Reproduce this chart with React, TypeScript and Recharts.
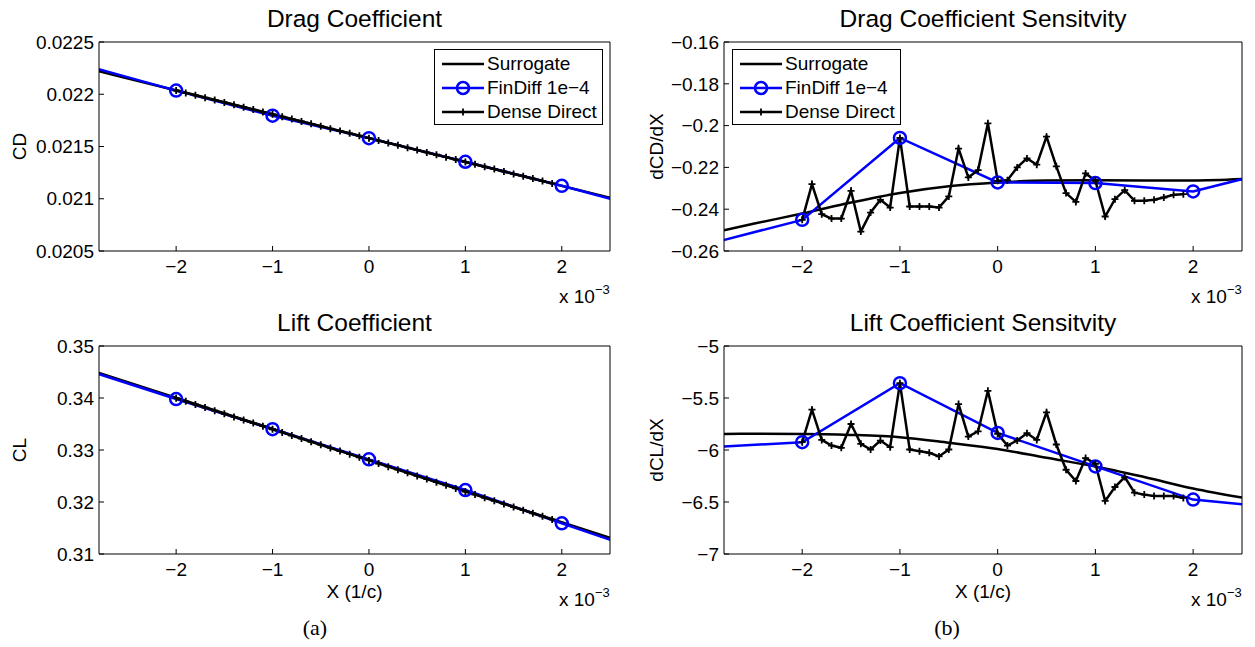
import React from 'react';
import { LineChart, Line, XAxis, YAxis, Legend } from 'recharts';

const FONT = '"Liberation Sans", Arial, Helvetica, sans-serif';
const SERIF = '"Liberation Serif", "DejaVu Serif", serif';

// x positions are in units of 1e-3 (1/c)
const xTicks = [-2, -1, 0, 1, 2];
const xDomain = [-2.8, 2.5];

const denseX = [
  -2, -1.9, -1.8, -1.7, -1.6, -1.5, -1.4, -1.3, -1.2, -1.1,
  -1, -0.9, -0.8, -0.7, -0.6, -0.5, -0.4, -0.3, -0.2, -0.1,
  0, 0.1, 0.2, 0.3, 0.4, 0.5, 0.6, 0.7, 0.8, 0.9,
  1, 1.1, 1.2, 1.3, 1.4, 1.5, 1.6, 1.7, 1.8, 1.9,
];
const finDiffX = [-3, -2, -1, 0, 1, 2, 3];
const surrogateX = [-2.8, -2.5, -2, -1.5, -1, -0.5, 0, 0.5, 1, 1.5, 2, 2.5];
const surrogateLineX = [-2.8, 0, 2.5];

// Drag coefficient
const denseCD = [
  0.022036, 0.022013, 0.02199, 0.021967, 0.021944, 0.021922, 0.021899, 0.021876, 0.021853, 0.021831,
  0.021808, 0.021785, 0.021762, 0.021739, 0.021717, 0.021694, 0.021671, 0.021648, 0.021626, 0.021603,
  0.02158, 0.021557, 0.021534, 0.021512, 0.021489, 0.021466, 0.021443, 0.021421, 0.021398, 0.021375,
  0.021352, 0.021329, 0.021307, 0.021284, 0.021261, 0.021238, 0.021216, 0.021193, 0.02117, 0.021147,
];
const finDiffCD = [0.02229, 0.022035, 0.021795, 0.02158, 0.021354, 0.021124, 0.020876];
const surrogateCD = [0.02222, 0.02158, 0.02101];

// Lift coefficient
const denseCL = [
  0.33996, 0.33936, 0.33876, 0.33817, 0.33757, 0.33697, 0.33637, 0.33577, 0.33518, 0.33458,
  0.33398, 0.33338, 0.33278, 0.33219, 0.33159, 0.33099, 0.33039, 0.32979, 0.3292, 0.3286,
  0.328, 0.3274, 0.3268, 0.32621, 0.32561, 0.32501, 0.32441, 0.32381, 0.32322, 0.32262,
  0.32202, 0.32142, 0.32082, 0.32023, 0.31963, 0.31903, 0.31843, 0.31783, 0.31724, 0.31664,
];
const finDiffCL = [0.3458, 0.3398, 0.334, 0.3282, 0.3223, 0.3159, 0.3096];
const surrogateCL = [0.3448, 0.3281, 0.3131];

// Drag coefficient sensitivity
const denseDCD = [
  -0.2451, -0.228, -0.2424, -0.2445, -0.2445, -0.2312, -0.2507, -0.2416, -0.2355, -0.2392,
  -0.2059, -0.2387, -0.2387, -0.2387, -0.2392, -0.2339, -0.211, -0.2248, -0.2213, -0.1989,
  -0.2264, -0.2261, -0.22, -0.2157, -0.2187, -0.2053, -0.2195, -0.2323, -0.2365, -0.2229,
  -0.2264, -0.2435, -0.2352, -0.2309, -0.236, -0.236, -0.2355, -0.2344, -0.2331, -0.2328,
];
const finDiffDCD = [-0.2571, -0.2451, -0.2059, -0.2272, -0.2275, -0.2315, -0.2197];
const surrogateDCD = [
  -0.2501, -0.247, -0.2421, -0.2368, -0.2322, -0.229, -0.2272, -0.2263, -0.2262, -0.2263, -0.2263, -0.2256,
];

// Lift coefficient sensitivity
const denseDCL = [
  -5.925, -5.612, -5.903, -5.957, -5.979, -5.75, -5.941, -5.995, -5.909, -5.973,
  -5.357, -5.995, -6.011, -6.027, -6.062, -5.995, -5.558, -5.871, -5.82, -5.431,
  -5.845, -5.957, -5.909, -5.839, -5.903, -5.638, -5.947, -6.19, -6.298, -6.078,
  -6.132, -6.49, -6.356, -6.26, -6.41, -6.429, -6.442, -6.442, -6.442, -6.461,
];
const finDiffDCL = [-5.976, -5.925, -5.357, -5.836, -6.158, -6.477, -6.565];
const surrogateDCL = [
  -5.845, -5.844, -5.845, -5.855, -5.877, -5.93, -5.99, -6.075, -6.158, -6.26, -6.37, -6.458,
];

const legendNames = ['Surrogate', 'FinDiff 1e\u22124', 'Dense Direct'];

type Pt = { x: number; y: number };
const zip = (xs: number[], ys: number[]): Pt[] => xs.map((x, i) => ({ x, y: ys[i] }));
const fmt = (v: number) => String(v).replace('-', '\u2212');

const PlusDot = (props: any) => {
  const { cx, cy, index } = props;
  if (cx == null || cy == null) return <g key={index} />;
  const s = 3.5;
  return (
    <path
      key={index}
      d={`M${cx - s},${cy}H${cx + s}M${cx},${cy - s}V${cy + s}`}
      stroke="#000"
      strokeWidth={1.8}
      fill="none"
    />
  );
};

const LegendBox = () => (
  <div
    style={{
      width: 167,
      height: 74,
      border: '1px solid #000',
      background: '#fff',
      fontFamily: FONT,
      fontSize: 19,
      position: 'relative',
    }}
  >
    {legendNames.map((name, i) => (
      <div
        key={name}
        style={{
          position: 'absolute',
          left: 0,
          top: 1.5 + i * 24,
          height: 24,
          display: 'flex',
          alignItems: 'center',
          whiteSpace: 'nowrap',
        }}
      >
        <svg width={52} height={24} style={{ display: 'block' }}>
          <line x1={7} y1={12} x2={49} y2={12} stroke={i === 1 ? '#0000ff' : '#000'} strokeWidth={2.5} />
          {i === 1 && <circle cx={28} cy={12} r={6} stroke="#0000ff" strokeWidth={2.5} fill="none" />}
          {i === 2 && <path d="M24.5,12H31.5M28,8.5V15.5" stroke="#000" strokeWidth={1.8} />}
        </svg>
        <span style={{ lineHeight: '24px', color: '#000' }}>{name}</span>
      </div>
    ))}
  </div>
);

interface PanelProps {
  left: number;
  top: number;
  width: number;
  height: number;
  yDomain: number[];
  yTicks: number[];
  surrogate: Pt[];
  finDiff: Pt[];
  dense: Pt[];
  legend?: 'left' | 'right';
}

const ML = 80;
const MT = 40;
const MR = 60;
const MB = 70;

function Panel({ left, top, width, height, yDomain, yTicks, surrogate, finDiff, dense, legend }: PanelProps) {
  const legendLeft = legend === 'right' ? ML + width - 7 - 169 : ML + 8;
  const tickStyle = { fill: '#000', fontSize: 19, fontFamily: FONT };
  return (
    <div style={{ position: 'absolute', left: left - ML, top: top - MT }}>
      <LineChart
        width={width + ML + MR}
        height={height + MT + MB}
        margin={{ top: MT - 1, right: MR - 1, bottom: MB - 30, left: 0 }}
      >
        <XAxis
          xAxisId="b"
          dataKey="x"
          type="number"
          orientation="bottom"
          domain={xDomain}
          allowDataOverflow
          ticks={xTicks}
          tickFormatter={fmt}
          height={30}
          tickSize={-5}
          tickMargin={14}
          stroke="#000"
          tick={tickStyle}
        />
        <XAxis
          xAxisId="t"
          dataKey="x"
          type="number"
          orientation="top"
          domain={xDomain}
          allowDataOverflow
          ticks={xTicks}
          height={1}
          tickSize={-5}
          tick={false}
          stroke="#000"
        />
        <YAxis
          yAxisId="l"
          type="number"
          domain={yDomain}
          allowDataOverflow
          ticks={yTicks}
          tickFormatter={fmt}
          width={ML}
          tickSize={-5}
          tickMargin={10}
          stroke="#000"
          tick={tickStyle}
        />
        <YAxis
          yAxisId="r"
          type="number"
          orientation="right"
          domain={yDomain}
          allowDataOverflow
          ticks={yTicks}
          width={1}
          tickSize={-5}
          tick={false}
          stroke="#000"
        />
        <Line
          xAxisId="b"
          yAxisId="l"
          data={surrogate}
          dataKey="y"
          name="Surrogate"
          type="monotone"
          stroke="#000"
          strokeWidth={2.5}
          dot={false}
          isAnimationActive={false}
        />
        <Line
          xAxisId="b"
          yAxisId="l"
          data={finDiff}
          dataKey="y"
          name="FinDiff 1e-4"
          type="linear"
          stroke="#0000ff"
          strokeWidth={2.5}
          dot={{ r: 6, stroke: '#0000ff', strokeWidth: 2.5, fill: 'none' }}
          isAnimationActive={false}
        />
        <Line
          xAxisId="b"
          yAxisId="l"
          data={dense}
          dataKey="y"
          name="Dense Direct"
          type="linear"
          stroke="#000"
          strokeWidth={2.5}
          dot={PlusDot}
          isAnimationActive={false}
        />
        {legend && (
          <Legend
            layout="vertical"
            align="center"
            verticalAlign="middle"
            content={<LegendBox />}
            wrapperStyle={{ left: legendLeft, top: MT + 7, width: 169, height: 76 }}
          />
        )}
      </LineChart>
    </div>
  );
}

const panelA = { left: 99, top: 42, width: 511, height: 209 };
const panelB = { left: 724, top: 42, width: 518, height: 209 };
const panelC = { left: 99, top: 346, width: 511, height: 208 };
const panelD = { left: 724, top: 346, width: 518, height: 208 };

const Exponent = ({ p }: { p: { left: number; top: number; width: number; height: number } }) => (
  <text x={p.left + p.width - 51} y={p.top + p.height + 52} fontSize={19} fontFamily={FONT}>
    x 10
    <tspan dy={-9} fontSize={13}>
      {'\u22123'}
    </tspan>
  </text>
);

export default function App() {
  const cx = (p: typeof panelA) => p.left + p.width / 2;
  const cy = (p: typeof panelA) => p.top + p.height / 2;
  return (
    <div style={{ position: 'absolute', left: 0, top: 0, width: 1255, height: 647, background: '#fff' }}>
      <Panel
        {...panelA}
        yDomain={[0.0205, 0.0225]}
        yTicks={[0.0205, 0.021, 0.0215, 0.022, 0.0225]}
        surrogate={zip(surrogateLineX, surrogateCD)}
        finDiff={zip(finDiffX, finDiffCD)}
        dense={zip(denseX, denseCD)}
        legend="right"
      />
      <Panel
        {...panelB}
        yDomain={[-0.26, -0.16]}
        yTicks={[-0.26, -0.24, -0.22, -0.2, -0.18, -0.16]}
        surrogate={zip(surrogateX, surrogateDCD)}
        finDiff={zip(finDiffX, finDiffDCD)}
        dense={zip(denseX, denseDCD)}
        legend="left"
      />
      <Panel
        {...panelC}
        yDomain={[0.31, 0.35]}
        yTicks={[0.31, 0.32, 0.33, 0.34, 0.35]}
        surrogate={zip(surrogateLineX, surrogateCL)}
        finDiff={zip(finDiffX, finDiffCL)}
        dense={zip(denseX, denseCL)}
      />
      <Panel
        {...panelD}
        yDomain={[-7, -5]}
        yTicks={[-7, -6.5, -6, -5.5, -5]}
        surrogate={zip(surrogateX, surrogateDCL)}
        finDiff={zip(finDiffX, finDiffDCL)}
        dense={zip(denseX, denseDCL)}
      />
      <svg
        width={1255}
        height={647}
        style={{ position: 'absolute', left: 0, top: 0, pointerEvents: 'none' }}
      >
        <g fontFamily={FONT} fill="#000" textAnchor="middle">
          <text x={cx(panelA)} y={27} fontSize={24.5}>Drag Coefficient</text>
          <text x={cx(panelB)} y={27} fontSize={24.5}>Drag Coefficient Sensitvity</text>
          <text x={cx(panelC)} y={331} fontSize={24.5}>Lift Coefficient</text>
          <text x={cx(panelD)} y={331} fontSize={24.5}>Lift Coefficient Sensitvity</text>
          <text transform={`translate(26,${cy(panelA)}) rotate(-90)`} fontSize={19}>CD</text>
          <text transform={`translate(663,${cy(panelB)}) rotate(-90)`} fontSize={19}>dCD/dX</text>
          <text transform={`translate(26,${cy(panelC)}) rotate(-90)`} fontSize={19}>CL</text>
          <text transform={`translate(663,${cy(panelD)}) rotate(-90)`} fontSize={19}>dCL/dX</text>
          <text x={cx(panelC)} y={598} fontSize={19}>X (1/c)</text>
          <text x={cx(panelD)} y={598} fontSize={19}>X (1/c)</text>
        </g>
        <g fill="#000">
          <Exponent p={panelA} />
          <Exponent p={panelB} />
          <Exponent p={panelC} />
          <Exponent p={panelD} />
        </g>
        <g fontFamily={SERIF} fontSize={22} fill="#000" textAnchor="middle">
          <text x={315} y={635}>(a)</text>
          <text x={947} y={635}>(b)</text>
        </g>
      </svg>
    </div>
  );
}
